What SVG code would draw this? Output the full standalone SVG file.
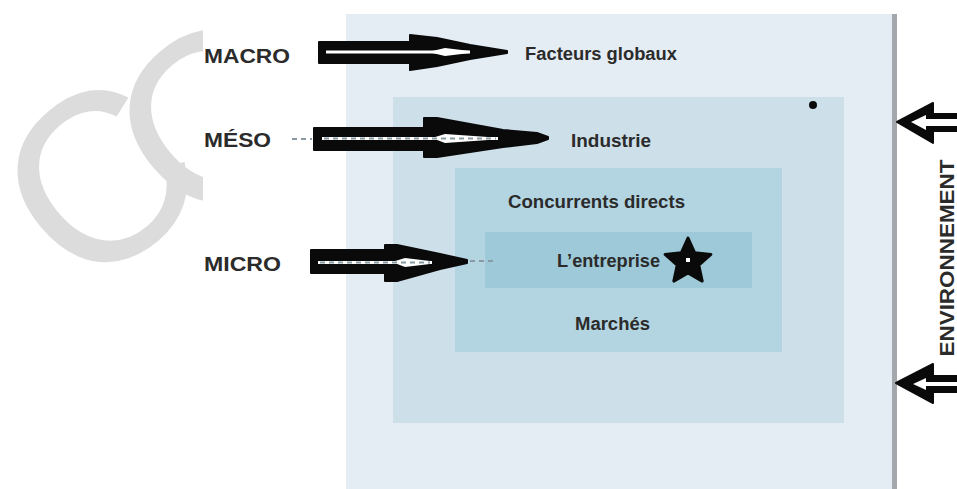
<svg xmlns="http://www.w3.org/2000/svg" width="957" height="489" viewBox="0 0 957 489">
  <defs>
    <style>
      .lbl { font-family: "Liberation Sans", Arial, sans-serif; font-weight: bold; fill: #2b2b2b; }
      .side { font-size: 21px; }
      .inner { font-size: 18px; }
      .wm { font-family: "Liberation Sans", Arial, sans-serif; font-size: 240px; fill: #dcdcdc; }
      .blk { fill: #0a0a0a; stroke: #0a0a0a; stroke-width: 2; stroke-linejoin: round; }
      .wline { stroke: #ffffff; stroke-width: 3; fill: none; }
      .dash { stroke: #8a9aa4; stroke-width: 2; stroke-dasharray: 5 4; fill: none; }
      .white { fill: #ffffff; }
    </style>
  </defs>

  <rect width="957" height="489" fill="#ffffff"/>

  <!-- faint background lettering, partly hidden by the label column -->
  <g id="background-lettering">
    <text class="wm" text-anchor="middle" transform="translate(95,176) rotate(-40)" y="88">C</text>
    <text class="wm" text-anchor="middle" transform="translate(207,116) rotate(-40)" y="88">C</text>
    <rect x="203" y="20" width="143" height="469" fill="#ffffff"/>
  </g>

  <!-- nested scopes -->
  <g id="environnement-box">
    <rect x="346" y="14" width="547" height="475" fill="#e4ecf4"/>
    <rect x="892" y="14" width="5" height="475" fill="#a4a8ac"/>
  </g>
  <g id="industrie-box">
    <rect x="393" y="97" width="451" height="326" fill="#cde0ea"/>
    <circle cx="813" cy="105" r="4" fill="#0a0a0a"/>
  </g>
  <g id="concurrents-box">
    <rect x="455" y="168" width="327" height="184" fill="#b3d4e1"/>
  </g>
  <g id="entreprise-box">
    <rect x="485" y="232" width="267" height="56" fill="#9dc9d8"/>
    <polygon points="688,238 694.7,252.8 710.9,254.4 698.8,265.2 702.2,281.1 688,273 673.8,281.1 677.2,265.2 665.1,254.4 681.3,252.8"
             fill="#0a0a0a" stroke="#0a0a0a" stroke-width="3" stroke-linejoin="round"/>
    <rect x="686" y="258" width="4" height="4" fill="#ffffff"/>
  </g>

  <!-- labels -->
  <g id="macro"><text class="lbl side" x="204" y="63" textLength="86" lengthAdjust="spacingAndGlyphs">MACRO</text></g>
  <g id="meso"><text class="lbl side" x="204" y="147" textLength="67" lengthAdjust="spacingAndGlyphs">MÉSO</text></g>
  <g id="micro"><text class="lbl side" x="204" y="271" textLength="77" lengthAdjust="spacingAndGlyphs">MICRO</text></g>
  <g id="facteurs"><text class="lbl inner" x="525" y="60" textLength="152" lengthAdjust="spacingAndGlyphs">Facteurs globaux</text></g>
  <g id="industrie"><text class="lbl inner" x="571" y="147" textLength="80" lengthAdjust="spacingAndGlyphs">Industrie</text></g>
  <g id="concurrents"><text class="lbl inner" x="508" y="208" textLength="177" lengthAdjust="spacingAndGlyphs">Concurrents directs</text></g>
  <g id="entreprise"><text class="lbl inner" x="557" y="267" textLength="103" lengthAdjust="spacingAndGlyphs">L’entreprise</text></g>
  <g id="marches"><text class="lbl inner" x="575" y="330" textLength="75" lengthAdjust="spacingAndGlyphs">Marchés</text></g>
  <g id="env-label"><text class="lbl side" text-anchor="middle" transform="translate(954,258) rotate(-90)" textLength="197" lengthAdjust="spacingAndGlyphs">ENVIRONNEMENT</text></g>

  <!-- connectors -->
  <g id="connectors">
    <!-- macro -->
    <polygon class="blk" points="319,42 410,42 410,35 437,38 470,45 507,51 507,53 470,59 437,66 410,70 410,63 319,63"/>
    <line class="wline" x1="326" y1="52" x2="470" y2="52"/>
    <polygon class="white" points="428,52 445,48 470,51 470,53 445,56"/>

    <!-- meso -->
    <line class="dash" x1="292" y1="139" x2="312" y2="139"/>
    <polygon class="blk" points="314,128 424,128 424,118 437,118 503,130 537,133 548,137 548,139 537,143 503,147 437,157 424,157 424,150 314,150"/>
    <line class="wline" x1="322" y1="138.5" x2="498" y2="138.5"/>
    <polygon class="white" points="432,138 445,134 488,137 488,140 445,143"/>
    <line class="dash" x1="324" y1="138.5" x2="496" y2="138.5" stroke-width="1.5"/>

    <!-- micro -->
    <polygon class="blk" points="311,250 385,250 385,245 397,245 440,254 467,260 467,263 440,269 397,281 385,281 385,273 311,273"/>
    <line class="wline" x1="318" y1="262.5" x2="432" y2="262.5"/>
    <polygon class="white" points="392,262 405,258 430,261 430,264 405,267"/>
    <line class="dash" x1="320" y1="262.5" x2="430" y2="262.5" stroke-width="1.5"/>
    <line class="dash" x1="470" y1="261" x2="494" y2="261"/>

    <!-- environment arrows -->
    <polygon class="blk" points="897,122 933,103 933,114 957,114 957,131 933,131 933,143"/>
    <polygon class="white" points="911,122 926,115 926,119 957,119 957,126 926,126 926,130"/>
    <polygon class="blk" points="896,383 933,364 933,376 957,376 957,392 933,392 933,403"/>
    <polygon class="white" points="913,384 926,378 926,382 957,382 957,386 926,386 926,390"/>
  </g>
</svg>
